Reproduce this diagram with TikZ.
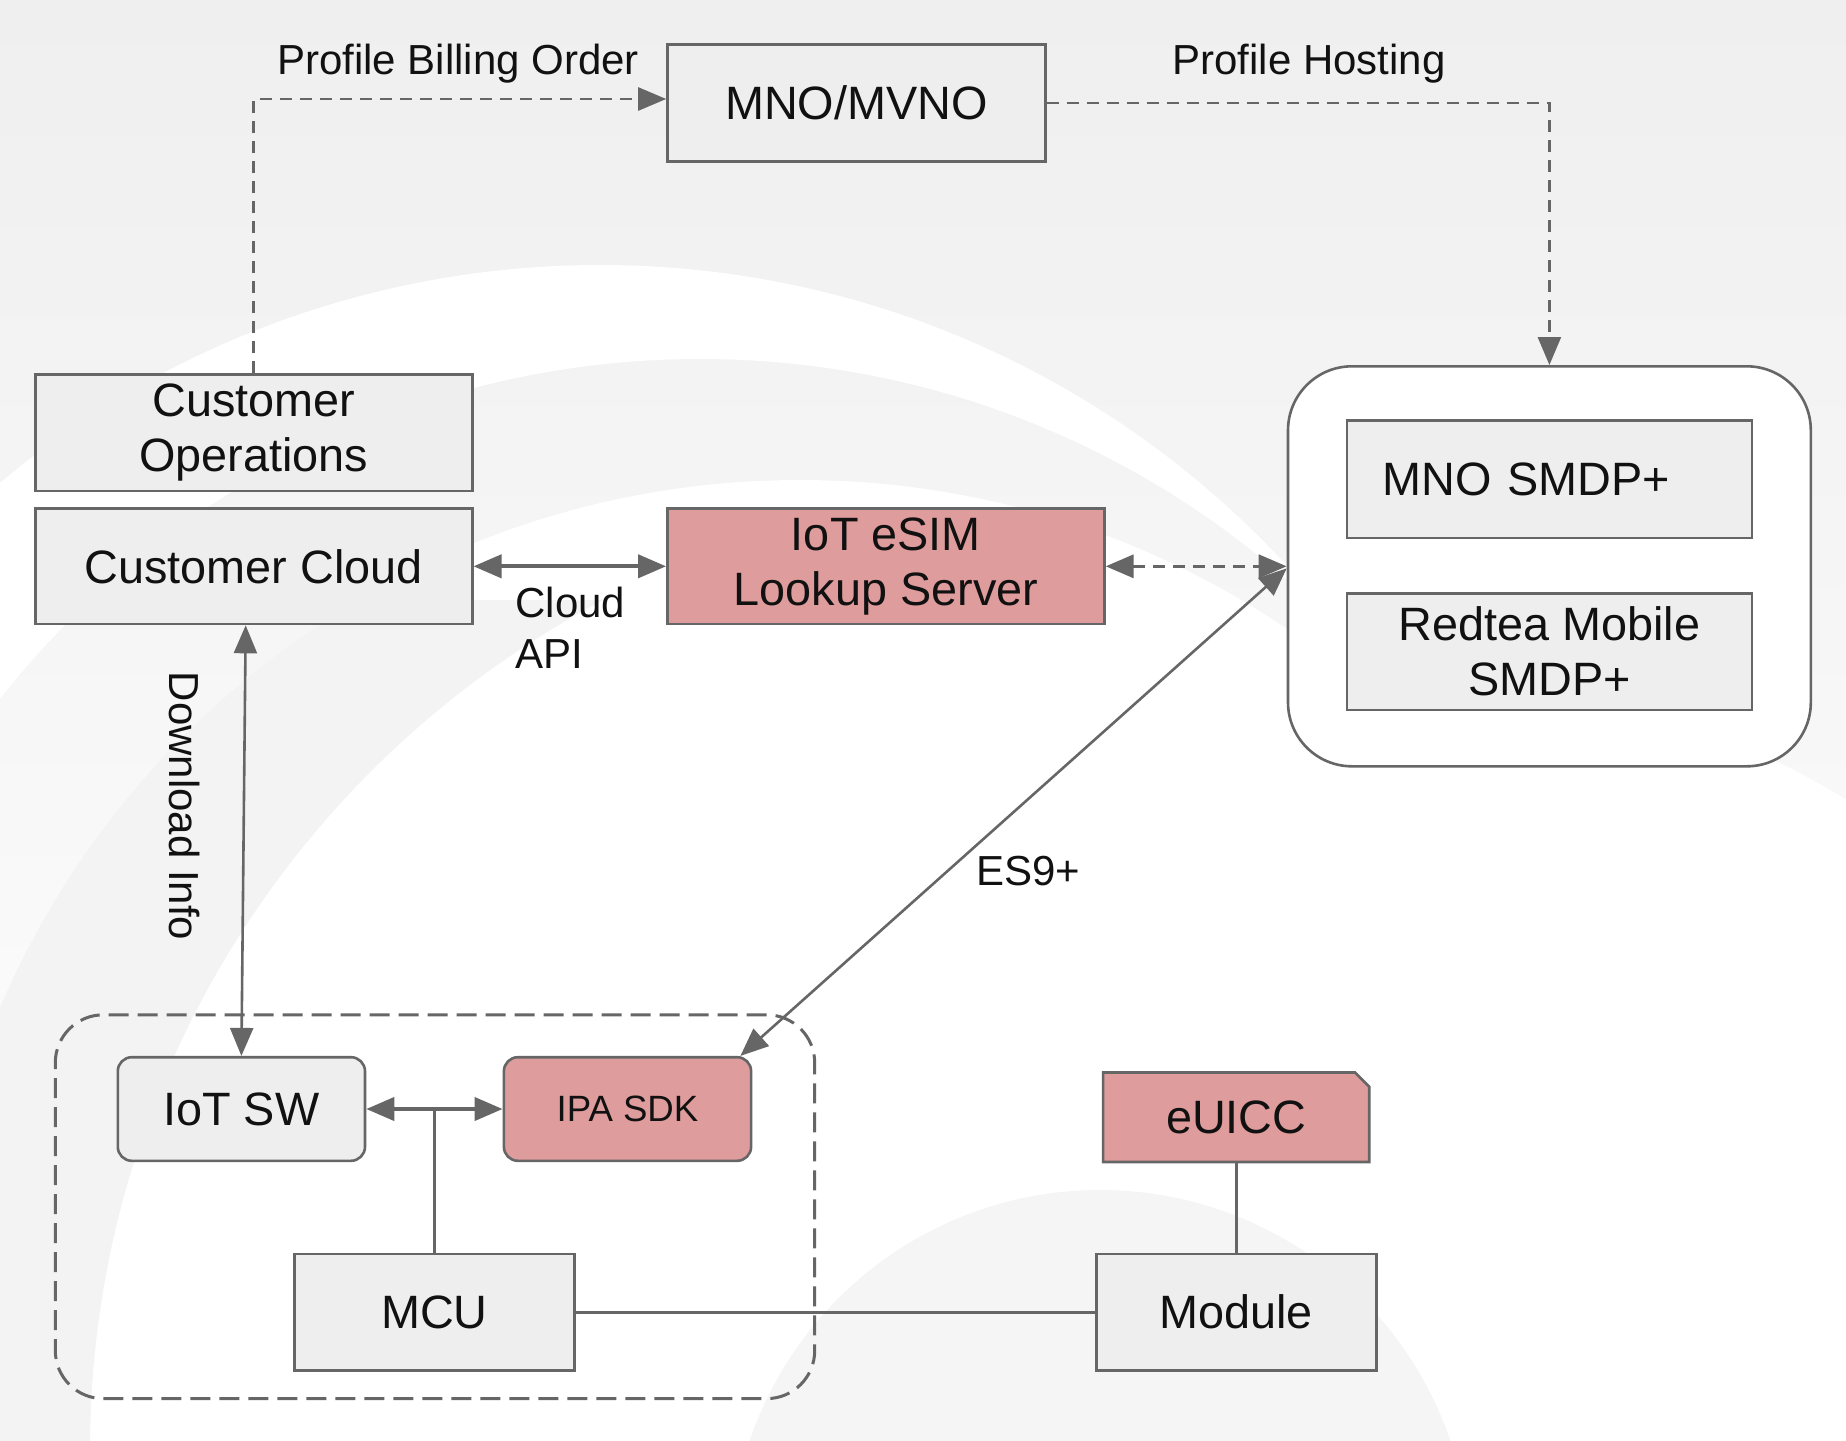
\documentclass[tikz,border=0pt]{standalone}
\usepackage{fontspec}
\setmainfont{Liberation Sans}
\usetikzlibrary{arrows.meta,calc}
\definecolor{bgc}{HTML}{EFEFEF}
\definecolor{bgmidc}{HTML}{F6F6F6}
\definecolor{bgmid}{HTML}{F3F3F3}
\definecolor{bgdisc}{HTML}{F5F5F5}
\definecolor{boxfill}{HTML}{EEEEEE}
\definecolor{pinkfill}{HTML}{DF9C9C}
\definecolor{edge}{HTML}{666666}
\definecolor{txt}{HTML}{111111}
\begin{document}
\begin{tikzpicture}[x=0.5pt,y=-0.5pt,
  >={Triangle[length=14pt,width=11.5pt]},
  nodetext/.style={font=\fontsize{23.4}{27.5}\selectfont, text=txt, align=center, inner sep=0pt},
  box/.style={nodetext, draw=edge, line width=1.3pt, fill=boxfill},
  pinkbox/.style={box, fill=pinkfill},
  lbl/.style={font=\fontsize{21}{25.5}\selectfont, text=txt, inner sep=0pt},
  conn/.style={draw=edge, line width=1.3pt},
  dashconn/.style={conn, dash pattern=on 6pt off 4pt},
]
\useasboundingbox (0,0) rectangle (1846,1440);
% background swooshes
\begin{scope}
\clip (0,0) rectangle (1846,1440);
\shade[top color=bgc, middle color=bgmidc, bottom color=white] (0,0) rectangle (1846,1440);
\fill[white] (1500,1350) circle [radius=650];
\begin{scope}
\clip (0,0) rectangle (1290,900);
\fill[white, even odd rule] (600,1200) circle [radius=935] (700,1250) circle [radius=891];
\end{scope}
\fill[white] (800,1350) circle [radius=870];
\begin{scope}
\clip (0,600) rectangle (700,1440);
\fill[bgmid, even odd rule] (800,1350) circle [radius=870] (1050,1450) circle [radius=960];
\end{scope}
\fill[bgdisc] (1100,1560) circle [radius=370];
\end{scope}

% nodes
\node[box, minimum width=189pt, minimum height=58.3pt] (mno) at (856.5,103) {MNO/MVNO};
\node[box, minimum width=218.5pt, minimum height=58.3pt] (ops) at (253.7,432.7) {Customer\\Operations};
\node[box, minimum width=218.5pt, minimum height=57.7pt] (cloud) at (253.7,566.3) {Customer Cloud};
\node[pinkbox, minimum width=218.5pt, minimum height=57.7pt] (lookup) at (885.9,566.3) {IoT eSIM\\Lookup Server};
\node[draw=edge, line width=1.3pt, fill=white, rounded corners=32pt, minimum width=261.4pt, minimum height=200pt] (smdp) at (1549.4,566.3) {};
\node[box, minimum width=202.5pt, minimum height=58.8pt, text width=202.5pt, align=left] (mnosmdp) at (1549.3,479.2) {\hspace*{18pt}MNO SMDP+};
\node[box, minimum width=202.5pt, minimum height=58.3pt] (redtea) at (1549.3,651.7) {Redtea Mobile\\SMDP+};
\node[draw=edge, line width=1.5pt, dash pattern=on 10pt off 4.5pt, rounded corners=24pt, minimum width=379.7pt, minimum height=191.9pt] (device) at (435,1206.7) {};
\node[box, rounded corners=7pt, minimum width=123.6pt, minimum height=51.8pt] (iotsw) at (241.4,1109) {IoT SW};
\node[pinkbox, rounded corners=7pt, minimum width=123.6pt, minimum height=51.8pt, font=\fontsize{18.3}{22}\selectfont] (ipa) at (627.5,1109) {IPA SDK};
\node[box, minimum width=140pt, minimum height=58.3pt] (mcu) at (434.4,1312.1) {MCU};
\node[box, minimum width=140pt, minimum height=58.3pt] (module) at (1236.2,1312.1) {Module};
\draw[draw=edge, line width=1.3pt, fill=pinkfill] (1103.1,1162) -- (1103.1,1072.5) -- (1355,1072.5) -- (1369.2,1086.7) -- (1369.2,1162) -- cycle;
\node[nodetext, minimum width=133pt, minimum height=44.7pt] (euicc) at (1236.2,1117.3) {eUICC};

% connectors
\draw[dashconn, ->] (ops.north) |- ($(mno.west)+(0,-4)$);
\draw[dashconn, ->] (mno.east) -| (smdp.north);
\draw[conn, line width=2pt, <->] (cloud.east) -- (lookup.west);
\draw[dashconn, line width=1.8pt, <->] (lookup.east) -- (smdp.west);
\draw[conn, <->] ($(ipa.north east)+(-12,0)$) -- ($(smdp.west)+(0,2)$);
\draw[conn, <->] ($(cloud.south)+(-8,0)$) -- (iotsw.north);
\draw[conn, line width=2pt, <->] (iotsw.east) -- (ipa.west);
\draw[conn] (mcu.north) -- (mcu.north |- iotsw.east);
\draw[conn, line width=1.6pt] (mcu.east) -- (module.west);
\draw[conn, line width=1.6pt] (euicc.south) -- (module.north);

% labels
\node[lbl] (lblbill) at (458,64) {Profile Billing Order};
\node[lbl] (lblhost) at (1309,64) {Profile Hosting};
\node[lbl, align=left, anchor=west] (lblapi) at (515,628) {Cloud\\API};
\node[lbl] (lbles) at (1028,871) {ES9+};
\node[lbl, rotate=-90] (lbldl) at (185,806) {Download Info};
\end{tikzpicture}
\end{document}
